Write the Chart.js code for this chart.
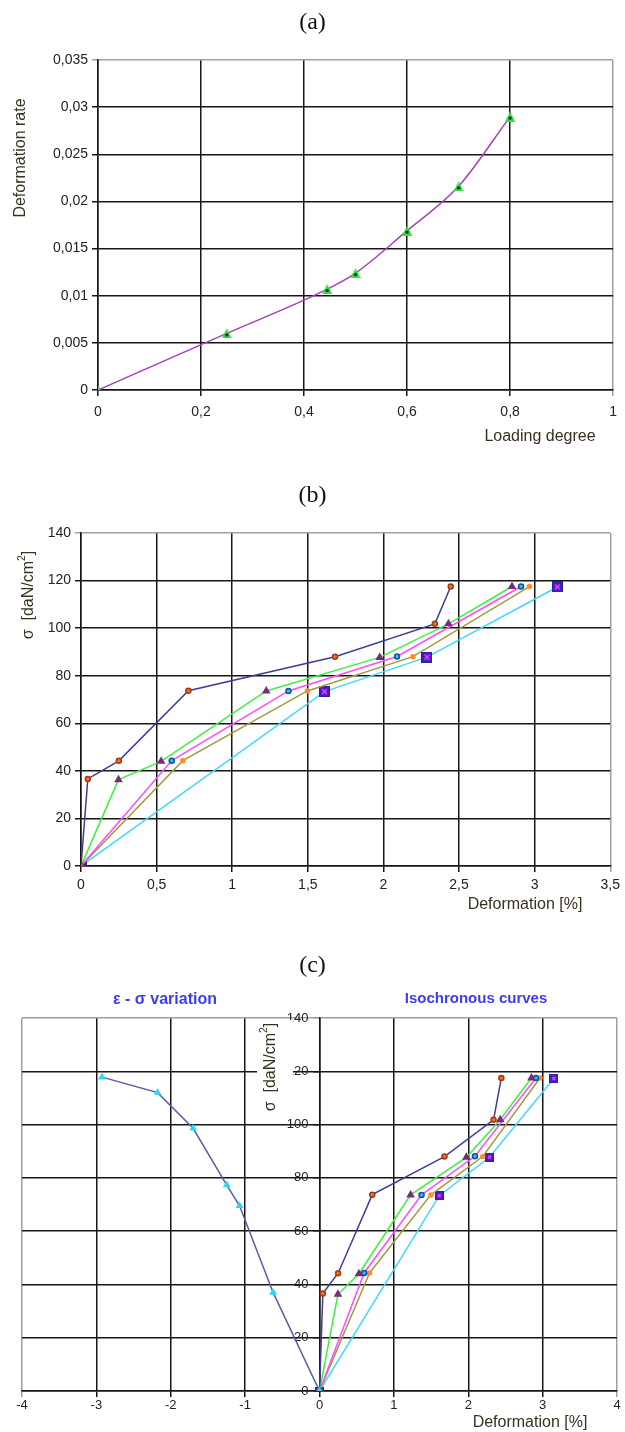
<!DOCTYPE html>
<html>
<head>
<meta charset="utf-8">
<script src="https://cdn.jsdelivr.net/npm/chart.js@4.4.1/dist/chart.umd.min.js"></script>
<style>
  body { margin:0; background:#fff; width:625px; height:1432px; position:relative; overflow:hidden; }
  canvas { position:absolute; left:0; }
  .tag { position:absolute; left:0; width:625px; text-align:center; font-family:"Liberation Serif","Times New Roman",serif; font-size:24px; line-height:27px; color:#111; }
</style>
</head>
<body>
<canvas id="chartA" width="625" height="452" style="top:0"></canvas>
<canvas id="chartB" width="625" height="480" style="top:440px"></canvas>
<canvas id="chartC" width="625" height="512" style="top:920px"></canvas>
<div class="tag" style="top:8px">(a)</div>
<div class="tag" style="top:481px">(b)</div>
<div class="tag" style="top:951px">(c)</div>
<script>
// (a) deformation rate vs loading degree
const loadDeg = [0, 0.25, 0.445, 0.5, 0.6, 0.7, 0.8];
const defRate = [0, 0.006, 0.0107, 0.0124, 0.0169, 0.0216, 0.029];

// (b) / (c) isochronous curves, deformation [%] vs sigma
const iso1X = [0, 0.045, 0.25, 0.71, 1.68, 2.34, 2.445];
const iso1Y = [0, 36.6, 44.2, 73.7, 88, 101.8, 117.5];
const iso2X = [0, 0.248, 0.53, 1.225, 1.975, 2.43, 2.85];
const iso2Y = [0, 36.3, 44, 73.6, 87.7, 101.8, 117.5];
const iso3X = [0, 0.6, 1.372, 2.09, 2.91];
const iso3Y = [0, 44.3, 73.6, 88.1, 117.5];
const iso4X = [0, 0.673, 1.497, 2.195, 2.965];
const iso4Y = [0, 44.3, 73.6, 88, 117.5];
const iso5X = [0, 1.61, 2.288, 3.15];
const iso5Y = [0, 73.3, 87.8, 117.3];

// (c) epsilon - sigma variation
const epsX = [-2.925, -2.177, -1.699, -1.247, -1.075, -0.624, 0];
const epsY = [117.8, 112, 98.6, 77.3, 69.5, 37, 0];

// axis ticks
const ticksA = { xMin: 0, xMax: 1, xStep: 0.2, yMin: 0, yMax: 0.035, yStep: 0.005 };
const ticksB = { xMin: 0, xMax: 3.5, xStep: 0.5, yMin: 0, yMax: 140, yStep: 20 };
const ticksC = { xMin: -4, xMax: 4, xStep: 1, yMin: 0, yMax: 140, yStep: 20 };

const SANS = '"Liberation Sans", Arial, sans-serif';
const zip = (xs, ys) => xs.map((x, i) => ({ x, y: ys[i] }));
const fmt = v => String(Math.round(v * 10000) / 10000).replace('.', ',');

const extraText = {
  id: 'extraText',
  afterDraw(chart, args, opts) {
    const ctx = chart.ctx;
    for (const it of opts.items || []) {
      ctx.save();
      if (it.box) { ctx.fillStyle = '#fff'; ctx.fillRect(...it.box); }
      ctx.translate(it.x, it.y);
      if (it.rot) ctx.rotate(it.rot);
      const parts = it.parts || [[it.text, false]];
      const fontOf = sup => `${it.weight || 'normal'} ${sup ? it.size * 0.65 : it.size}px ${SANS}`;
      let total = 0;
      parts.forEach(([t, sup]) => { ctx.font = fontOf(sup); total += ctx.measureText(t).width; });
      let cx = -total / 2;
      ctx.fillStyle = it.color;
      ctx.textBaseline = 'middle';
      ctx.textAlign = 'left';
      parts.forEach(([t, sup]) => {
        ctx.font = fontOf(sup);
        ctx.fillText(t, cx, sup ? -it.size * 0.4 : 0);
        cx += ctx.measureText(t).width;
      });
      ctx.restore();
    }
  }
};

function marker(size, paint) {
  const c = document.createElement('canvas');
  c.width = size; c.height = size;
  paint(c.getContext('2d'), size);
  return c;
}
const greenTri = marker(10, (g, s) => {
  g.fillStyle = '#2fe62f';
  g.beginPath(); g.moveTo(s / 2, 0); g.lineTo(s, s); g.lineTo(0, s); g.closePath(); g.fill();
  g.fillStyle = '#1b2660'; g.fillRect(s / 2 - 1.5, s * 0.5, 3, 3);
});
const squareX = size => marker(size, (g, s) => {
  g.fillStyle = '#4a1ac4'; g.fillRect(0, 0, s, s);
  g.strokeStyle = '#2424a8'; g.lineWidth = 1; g.strokeRect(0.5, 0.5, s - 1, s - 1);
  g.strokeStyle = '#ff44ff'; g.lineWidth = 1.3;
  g.beginPath(); g.moveTo(3, 3); g.lineTo(s - 3, s - 3); g.moveTo(s - 3, 3); g.lineTo(3, s - 3); g.stroke();
});

const gridColor = edges => c => (c.tick && edges.some(e => Math.abs(c.tick.value - e) < 1e-9)) ? '#a0a0a0' : '#161616';

function scale(min, max, step, edges, fit, pad, size, extra) {
  return Object.assign({
    type: 'linear', min, max,
    ticks: { stepSize: step, callback: fmt, color: '#222', font: { family: SANS, size: size || 14 }, padding: pad },
    grid: { color: gridColor(edges), lineWidth: 1.5, tickLength: 6 },
    border: { color: '#161616', width: 1.5 },
    afterFit: fit
  }, extra || {});
}

// y axis placed at x = 0: library puts labels right on the axis, move them left
function shiftLabels(dx) {
  return s => {
    if (s._shifted || typeof s._computeLabelItems !== 'function') return;
    s._shifted = true;
    const orig = s._computeLabelItems.bind(s);
    s._computeLabelItems = area => orig(area).map(it => { it.options.translation[0] -= dx; return it; });
  };
}

const sigmaTitle = (x, y, box) => ({
  x, y, rot: -Math.PI / 2, size: 16, color: '#3a3020', box,
  parts: [['\u03c3  [daN/cm', false], ['2', true], [']', false]]
});

function isoSets(sqSize) {
  return [
    { data: zip(iso1X, iso1Y), borderColor: '#3d3d9c', pointStyle: 'circle', pointRadius: 2.5, pointBackgroundColor: '#ff6a2a', pointBorderColor: '#a03a10' },
    { data: zip(iso2X, iso2Y), borderColor: '#3ff03f', pointStyle: 'triangle', pointRadius: 3.5, pointBackgroundColor: '#7c2a7c', pointBorderColor: '#7c2a7c' },
    { data: zip(iso3X, iso3Y), borderColor: '#ff4cff', pointStyle: 'circle', pointRadius: 2.5, pointBackgroundColor: '#16c8f0', pointBorderColor: '#1a4aa0' },
    { data: zip(iso4X, iso4Y), borderColor: '#a39a40', pointStyle: 'circle', pointRadius: 2, pointBackgroundColor: '#ff8c2a', pointBorderColor: '#ff8c2a' },
    { data: zip(iso5X, iso5Y), borderColor: '#40d8ff', pointStyle: squareX(sqSize), pointRadius: 5 }
  ].map(d => Object.assign({ showLine: true, borderWidth: 1.5, fill: false }, d));
}

const base = {
  responsive: false, animation: false, events: [],
  plugins: { legend: { display: false }, tooltip: { enabled: false } }
};

// (a)
new Chart(document.getElementById('chartA'), {
  type: 'scatter',
  data: { datasets: [{
    data: zip(loadDeg, defRate), showLine: true, borderColor: '#a443b4', borderWidth: 1.5,
    cubicInterpolationMode: 'monotone', pointStyle: greenTri, pointRadius: 5
  }] },
  options: Object.assign({}, base, {
    layout: { padding: { left: 0, right: 10, top: 60, bottom: 22 } },
    scales: {
      x: scale(ticksA.xMin, ticksA.xMax, ticksA.xStep, [ticksA.xMax], s => { s.height = 40; }, 8),
      y: scale(ticksA.yMin, ticksA.yMax, ticksA.yStep, [ticksA.yMax], s => { s.width = 98; }, 4)
    },
    plugins: Object.assign({}, base.plugins, { extraText: { items: [
      { text: 'Deformation rate', x: 21, y: 158, rot: -Math.PI / 2, size: 16, color: '#3a3020' },
      { text: 'Loading degree', x: 540, y: 437, size: 16, color: '#3a3020' }
    ] } })
  }),
  plugins: [extraText]
});

// (b)
new Chart(document.getElementById('chartB'), {
  type: 'scatter',
  data: { datasets: isoSets(11) },
  options: Object.assign({}, base, {
    layout: { padding: { left: 0, right: 14, top: 93, bottom: 14 } },
    scales: {
      x: scale(ticksB.xMin, ticksB.xMax, ticksB.xStep, [ticksB.xMax], s => { s.height = 40; }, 5),
      y: scale(ticksB.yMin, ticksB.yMax, ticksB.yStep, [ticksB.yMax], s => { s.width = 81; }, 4)
    },
    plugins: Object.assign({}, base.plugins, { extraText: { items: [
      sigmaTitle(29, 155),
      { text: 'Deformation [%]', x: 525, y: 465, size: 16, color: '#3a3020' }
    ] } })
  }),
  plugins: [extraText]
});

// (c)
const epsSet = {
  data: zip(epsX, epsY), showLine: true, borderColor: '#5a5aa8', borderWidth: 1.5,
  pointStyle: 'triangle', pointRadius: 3, pointBackgroundColor: '#2ad8f0', pointBorderColor: '#2ad8f0'
};
new Chart(document.getElementById('chartC'), {
  type: 'scatter',
  data: { datasets: [epsSet].concat(isoSets(9)) },
  options: Object.assign({}, base, {
    layout: { padding: { left: 22, right: 8, top: 98, bottom: 0 } },
    scales: {
      x: scale(ticksC.xMin, ticksC.xMax, ticksC.xStep, [ticksC.xMin, ticksC.xMax], s => { s.height = 41; }, 1, 13),
      y: scale(ticksC.yMin, ticksC.yMax, ticksC.yStep, [ticksC.yMax], null, 5, 13,
        { position: { x: 0 }, afterUpdate: shiftLabels(11) })
    },
    plugins: Object.assign({}, base.plugins, { extraText: { items: [
      { text: '\u03b5 - \u03c3 variation', x: 165, y: 80, size: 16, weight: 'bold', color: '#3c3cf0' },
      { text: 'Isochronous curves', x: 476, y: 79, size: 15, weight: 'bold', color: '#3c3cf0' },
      sigmaTitle(271, 147, [257, 100, 36, 92]),
      { text: 'Deformation [%]', x: 530, y: 503, size: 16, color: '#3a3020' }
    ] } })
  }),
  plugins: [extraText]
});
</script>
</body>
</html>
